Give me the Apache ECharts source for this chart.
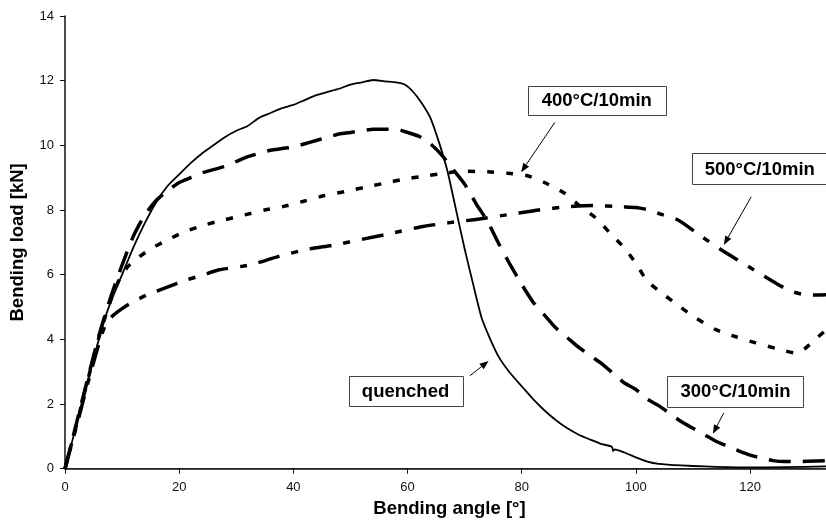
<!DOCTYPE html>
<html>
<head>
<meta charset="utf-8">
<script src="https://cdn.jsdelivr.net/npm/echarts@6/dist/echarts.min.js"></script>
<style>
  html, body { margin: 0; padding: 0; background: #fff; }
  #chart { width: 826px; height: 528px; }
</style>
</head>
<body>
<div id="chart"></div>
<script>
// Bending load vs. bending angle for four heat-treatment states.
// Each point is [angle in degrees, load in kN].
const quenched = [
  [0,0],[2,1.35],[4,2.7],[6,4.05],[7,4.65],[8,5.15],[10,6.0],[12,6.85],[14,7.6],[16,8.25],
  [18,8.75],[20,9.1],[22,9.45],[24,9.75],[26,10.0],[28,10.25],[30,10.45],[32,10.6],[34,10.85],
  [36,11.0],[38,11.15],[40,11.25],[42,11.4],[44,11.55],[46,11.65],[48,11.75],[50,11.88],
  [52,11.95],[54,12.02],[56,11.98],[58,11.95],[59.5,11.88],[61,11.65],[62.5,11.3],[64,10.85],
  [65.5,10.1],[67,9.2],[68.5,8.0],[70,6.8],[71.5,5.7],[73,4.65],[74.5,4.0],[76,3.45],[78,2.95],
  [80,2.55],[82,2.15],[84,1.8],[86,1.5],[88,1.25],[90,1.05],[92,0.9],[94,0.76],[95.8,0.68],
  [96,0.55],[96.3,0.6],[98,0.5],[100,0.35],[102,0.22],[104,0.15],[108,0.1],[112,0.07],
  [116,0.05],[120,0.04],[126,0.05],[133.3,0.07]
];
const temp300 = [
  [0,0],[2,1.4],[4,2.8],[6,4.15],[8,5.3],[10,6.3],[12,7.2],[14,7.85],[16,8.3],[18,8.6],
  [20,8.85],[22,9.0],[24,9.15],[26,9.25],[28,9.35],[30,9.5],[32,9.65],[34,9.75],[36,9.85],
  [38,9.9],[40,9.95],[42,10.05],[44,10.15],[46,10.25],[48,10.35],[50,10.4],[52,10.45],
  [54,10.5],[56,10.5],[58,10.5],[60,10.4],[62,10.28],[64,10.05],[66,9.7],[68,9.25],[70,8.8],
  [72,8.2],[74,7.65],[76,6.95],[78,6.3],[80,5.7],[82,5.15],[84,4.75],[86,4.35],[88,4.05],
  [90,3.75],[92,3.5],[94,3.25],[96,2.95],[98,2.65],[100,2.45],[102,2.15],[104,1.95],[106,1.7],
  [108,1.45],[110,1.25],[112,1.05],[114,0.85],[116,0.7],[118,0.55],[120,0.42],[122,0.33],
  [124,0.25],[126,0.22],[128,0.22],[130,0.23],[133.3,0.25]
];
const temp400 = [
  [0,0],[2,1.35],[4,2.75],[6,4.1],[8,5.2],[9.5,5.85],[11,6.25],[13,6.55],[15,6.8],[18,7.08],
  [21,7.33],[24.5,7.54],[28,7.7],[31.5,7.85],[35,8.0],[38.5,8.12],[42,8.28],[45.5,8.45],
  [49,8.57],[52.5,8.7],[56,8.83],[59.5,8.96],[63.5,9.06],[67,9.15],[70,9.2],[74,9.18],
  [77.5,9.14],[81,9.06],[84,8.85],[87.5,8.52],[90,8.15],[93,7.75],[95.5,7.28],[98,6.82],
  [100,6.35],[102,5.8],[105,5.37],[107.7,5.01],[110.6,4.65],[114,4.3],[117.5,4.08],
  [121,3.89],[124.5,3.72],[128,3.58],[129.5,3.7],[131,3.93],[133.3,4.29]
];
const temp500 = [
  [0,0],[2,1.3],[4,2.65],[6,3.9],[7.2,4.5],[8.5,4.75],[10,4.95],[11.5,5.12],[14.3,5.37],
  [17.8,5.61],[21.3,5.84],[24,5.98],[27,6.15],[32.4,6.3],[37.3,6.56],[42.3,6.78],[47.3,6.92],
  [52.2,7.1],[57.2,7.28],[62.7,7.49],[67.4,7.61],[72,7.71],[78.5,7.88],[83,8.0],[88,8.1],
  [92.5,8.14],[97.5,8.1],[100,8.08],[102.4,8.0],[104.2,7.88],[107.4,7.69],[111.5,7.18],
  [115.9,6.66],[120.2,6.2],[124.6,5.73],[127,5.5],[129,5.4],[131,5.37],[133.3,5.38]
];
const xTicks = [0, 20, 40, 60, 80, 100, 120];
const yTicks = [0, 2, 4, 6, 8, 10, 12, 14];
const xMax = 133.3;

// Callout boxes: box corners and arrow [tail, tip], all in axis units.
const callouts = [
  { text: '400°C/10min', box: [81.1, 11.85, 105.2, 10.94], arrow: [[85.8, 10.71], [79.9, 9.17]] },
  { text: '500°C/10min', box: [109.8, 9.76, 133.6, 8.81], arrow: [[120.2, 8.41], [115.4, 6.92]] },
  { text: 'quenched',    box: [49.7, 2.87, 69.6, 1.94],   arrow: [[70.9, 2.87], [74.2, 3.33]] },
  { text: '300°C/10min', box: [105.5, 2.87, 129.4, 1.92], arrow: [[115.4, 1.73], [113.5, 1.08]] }
];

const FONT = '"Liberation Sans", Arial, sans-serif';
const chart = echarts.init(document.getElementById('chart'), null, { renderer: 'canvas' });

function lineSeries(name, data, width, dash) {
  return {
    name, type: 'line', data, showSymbol: false, smooth: 0.2,
    lineStyle: { color: '#000', width, type: dash, cap: 'butt', join: 'round' },
    z: 3
  };
}

chart.setOption({
  animation: false,
  backgroundColor: '#fff',
  grid: { left: 65, right: 0, top: 16, bottom: 59.3 },
  xAxis: [{
    type: 'value', min: xTicks[0], max: xMax, interval: xTicks[1] - xTicks[0],
    name: 'Bending angle [°]', nameLocation: 'middle', nameGap: 31,
    nameTextStyle: { fontFamily: FONT, fontWeight: 'bold', fontSize: 18.5, color: '#000', padding: [0, 0, 0, 8] },
    axisLine: { onZero: false, lineStyle: { color: '#111', width: 1.5 } },
    axisTick: { show: true, length: 5, lineStyle: { color: '#111', width: 1 } },
    axisLabel: { fontFamily: FONT, fontSize: 13, color: '#111', margin: 12, showMaxLabel: false },
    splitLine: { show: false }
  }, {
    type: 'value', position: 'top', min: xTicks[0], max: xMax,
    axisLine: { show: true, lineStyle: { color: '#222', width: 1.2 } },
    axisTick: { show: false }, axisLabel: { show: false }, splitLine: { show: false }
  }],
  yAxis: {
    type: 'value', min: yTicks[0], max: yTicks[yTicks.length - 1], interval: yTicks[1] - yTicks[0],
    name: 'Bending load [kN]', nameLocation: 'middle', nameGap: 38,
    nameTextStyle: { fontFamily: FONT, fontWeight: 'bold', fontSize: 18.5, color: '#000' },
    axisLine: { show: true, lineStyle: { color: '#111', width: 1.5 } },
    axisTick: { show: true, length: 5, lineStyle: { color: '#111', width: 1 } },
    axisLabel: { fontFamily: FONT, fontSize: 13, color: '#111', margin: 11 },
    splitLine: { show: false }
  },
  series: [
    lineSeries('500°C/10min', temp500, 3.5, [22, 12, 7, 12]),
    lineSeries('400°C/10min', temp400, 3.5, [7, 12]),
    lineSeries('300°C/10min', temp300, 3.5, [22, 12]),
    lineSeries('quenched', quenched, 1.8, 'solid')
  ]
});

// Callout boxes and arrows, placed through the chart's own coordinate system.
function px(p) { return chart.convertToPixel({ xAxisIndex: 0, yAxisIndex: 0 }, p); }
const graphics = [];
callouts.forEach(function (c) {
  const a = px([c.box[0], c.box[1]]);
  const b = px([c.box[2], c.box[3]]);
  graphics.push({
    type: 'rect', z: 10,
    shape: { x: Math.round(a[0]) + 0.5, y: Math.round(a[1]) + 0.5, width: Math.round(b[0] - a[0]), height: Math.round(b[1] - a[1]) },
    style: { fill: '#fff', stroke: '#444', lineWidth: 1 }
  });
  graphics.push({
    type: 'text', z: 11,
    x: (a[0] + b[0]) / 2, y: (a[1] + b[1]) / 2 + 1,
    style: { text: c.text, fontFamily: FONT, fontWeight: 'bold', fontSize: 18.5, fill: '#000', align: 'center', verticalAlign: 'middle' }
  });
  const t = px(c.arrow[0]);
  const h = px(c.arrow[1]);
  const dx = h[0] - t[0], dy = h[1] - t[1];
  const len = Math.sqrt(dx * dx + dy * dy);
  const ux = dx / len, uy = dy / len;
  const hl = 9, hw = 3.5;
  const bx = h[0] - ux * hl, by = h[1] - uy * hl;
  graphics.push({
    type: 'line', z: 10,
    shape: { x1: t[0], y1: t[1], x2: bx, y2: by },
    style: { stroke: '#000', lineWidth: 1 }
  });
  graphics.push({
    type: 'polygon', z: 10,
    shape: { points: [[h[0], h[1]], [bx - uy * hw, by + ux * hw], [bx + uy * hw, by - ux * hw]] },
    style: { fill: '#000' }
  });
});
chart.setOption({ graphic: graphics });
</script>
</body>
</html>
